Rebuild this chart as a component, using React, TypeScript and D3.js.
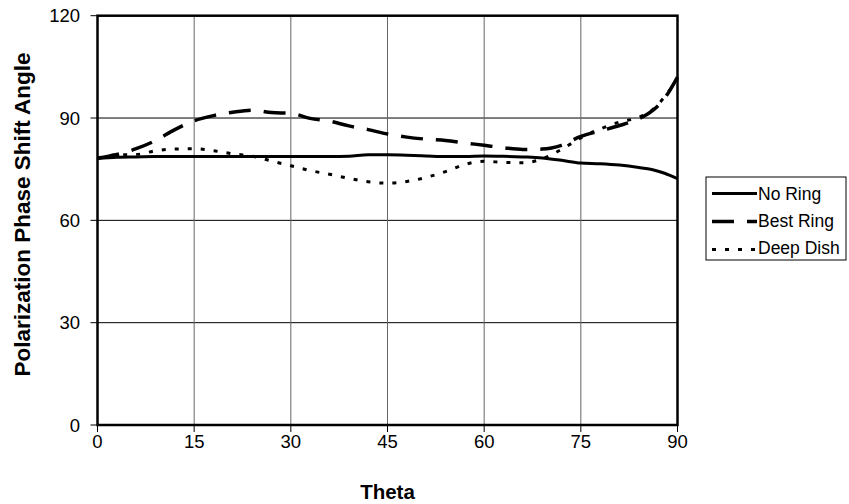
import React from "react";
import * as d3 from "d3";

const theta = [0, 3, 6, 9, 12, 15, 18, 21, 24, 27, 30, 33, 36, 39, 42, 45, 48, 51, 54, 57, 60, 63, 66, 69, 72, 75, 78, 81, 84, 86, 88, 90];
const noRing = [78.2, 78.5, 78.6, 78.7, 78.7, 78.7, 78.7, 78.7, 78.7, 78.7, 78.7, 78.7, 78.7, 78.8, 79.2, 79.2, 79.1, 78.9, 78.7, 78.7, 78.9, 78.8, 78.6, 78.3, 77.6, 76.8, 76.6, 76.2, 75.5, 74.9, 73.8, 72.2];
const bestRing = [78.2, 79.3, 81.0, 83.4, 86.6, 89.2, 90.7, 91.7, 92.3, 91.6, 91.4, 89.9, 89.1, 87.7, 86.6, 85.3, 84.4, 83.8, 83.4, 82.7, 82.0, 81.3, 80.8, 80.9, 82.0, 84.6, 86.2, 87.8, 89.8, 92.0, 95.8, 102.0];
const deepDish = [78.2, 79.2, 79.3, 80.4, 80.9, 81.0, 80.4, 79.5, 78.8, 77.4, 76.0, 74.6, 73.5, 72.3, 71.3, 70.9, 71.4, 72.6, 74.3, 76.4, 77.3, 77.0, 76.9, 78.0, 80.8, 84.2, 86.8, 88.8, 90.2, 92.2, 96.2, 101.5];
const xTicks = [0, 15, 30, 45, 60, 75, 90];
const yTicks = [0, 30, 60, 90, 120];
const seriesNames = ["No Ring", "Best Ring", "Deep Dish"];

const W = 849, H = 504;
const L = 97.5, R = 677.5, T = 15.7, B = 425;
const FONT = "Liberation Sans, Arial, sans-serif";

export default function App() {
  const x = d3.scaleLinear().domain([0, 90]).range([L, R]);
  const y = d3.scaleLinear().domain([0, 120]).range([B, T]);
  const series = [noRing, bestRing, deepDish];
  const styles = [
    { w: 3, dash: "none" },
    { w: 3.5, dash: "22,13" },
    { w: 3, dash: "4,9" },
  ];
  const line = d3
    .line<number>()
    .x((_, i) => x(theta[i]))
    .y((d) => y(d))
    .curve(d3.curveMonotoneX);

  return (
    <svg width={W} height={H} style={{ position: "absolute", left: 0, top: 0, background: "#fff" }}>
      <rect x={0} y={0} width={W} height={H} fill="#fff" />
      {yTicks.filter((t) => t > 0 && t < 120).map((t) => (
        <line key={"gy" + t} x1={L} x2={R} y1={y(t)} y2={y(t)} stroke="#000" strokeWidth={1} />
      ))}
      {xTicks.filter((t) => t > 0 && t < 90).map((t) => (
        <line key={"gx" + t} x1={x(t)} x2={x(t)} y1={T} y2={B} stroke="#666" strokeWidth={1} />
      ))}
      {yTicks.map((t) => (
        <line key={"ty" + t} x1={L - 7} x2={L} y1={y(t)} y2={y(t)} stroke="#000" strokeWidth={1} />
      ))}
      {xTicks.map((t) => (
        <line key={"tx" + t} x1={x(t)} x2={x(t)} y1={B} y2={B + 7} stroke="#000" strokeWidth={1} />
      ))}
      {series.map((s, i) => (
        <path key={"s" + i} d={line(s) || ""} fill="none" stroke="#000" strokeWidth={styles[i].w}
          strokeDasharray={styles[i].dash} />
      ))}
      <rect x={L} y={T} width={R - L} height={B - T} fill="none" stroke="#000" strokeWidth={2.5} />
      {yTicks.map((t) => (
        <text key={"ly" + t} x={80} y={y(t)} dy="0.36em" textAnchor="end" fontFamily={FONT} fontSize={18.5}>
          {t}
        </text>
      ))}
      {xTicks.map((t) => (
        <text key={"lx" + t} x={x(t)} y={448} textAnchor="middle" fontFamily={FONT} fontSize={18.5}>
          {t}
        </text>
      ))}
      <text x={(L + R) / 2} y={499} textAnchor="middle" fontFamily={FONT} fontSize={20.5} fontWeight="bold">
        Theta
      </text>
      <text transform={`translate(29.5,214.5) rotate(-90)`} textAnchor="middle" fontFamily={FONT}
        fontSize={22.5} fontWeight="bold">
        Polarization Phase Shift Angle
      </text>
      <rect x={706} y={177} width={140} height={83} fill="#fff" stroke="#000" strokeWidth={1} />
      {seriesNames.map((n, i) => (
        <g key={"lg" + i}>
          <line x1={712} x2={757} y1={193.5 + i * 28} y2={193.5 + i * 28} stroke="#000" strokeWidth={styles[i].w}
            strokeDasharray={styles[i].dash} />
          <text x={758} y={199.5 + i * 27.4} fontFamily={FONT} fontSize={17.5}>
            {n}
          </text>
        </g>
      ))}
    </svg>
  );
}
